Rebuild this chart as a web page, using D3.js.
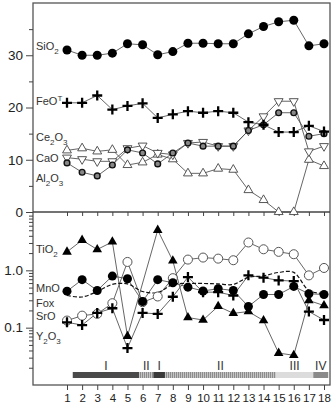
<!DOCTYPE html>
<html>
<head>
<meta charset="utf-8">
<script src="https://cdn.jsdelivr.net/npm/d3@7/dist/d3.min.js"></script>
<style>
body { margin: 0; background: #fff; }
text { font-family: "Liberation Sans", Arial, sans-serif; }
</style>
</head>
<body>
<div id="chart"></div>
<script>
// sample numbers along the profile
const samples = [1, 2, 3, 4, 5, 6, 7, 8, 9, 10, 11, 12, 13, 14, 15, 16, 17, 18];

// upper panel, wt%
const sio2  = [31.0, 30.0, 30.0, 30.4, 32.2, 32.0, 30.1, 30.7, 32.3, 32.3, 32.2, 32.2, 34.1, 35.5, 36.4, 36.7, 31.8, 32.2];
const feot  = [20.9, 20.9, 22.3, 19.6, 20.3, 20.8, 18.0, 18.7, 19.3, 19.0, 19.3, 19.0, 17.2, 16.7, 15.3, 15.3, 16.5, 15.4];
const ce2o3 = [11.8, 12.2, 11.6, 11.9, 9.0, 9.5, 11.0, 10.1, 7.4, 7.4, 8.3, 8.1, 4.2, 2.3, 0.0, 0.0, 10.0, 8.8];
const cao   = [10.4, 10.1, 9.7, 9.7, 12.2, 12.7, 11.3, 11.0, 13.2, 13.4, 12.6, 12.6, 15.6, 18.3, 21.2, 21.2, 11.6, 12.6];
const al2o3 = [9.4, 7.6, 6.9, 9.0, 11.9, 11.3, 9.2, 11.3, 13.2, 12.6, 12.6, 12.6, 15.6, 16.7, 19.0, 19.0, 14.5, 15.0];

// lower panel, log scale
const tio2 = [2.10, 3.36, 2.31, 3.14, 0.071, null, 5.03, 1.47, 0.150, 0.136, 0.236, 0.178, 0.191, 0.133, 0.036, 0.033, 0.298, 0.243];
const mno  = [0.433, 0.687, 0.446, 0.794, 0.715, 0.286, 0.687, 0.608, 0.509, 0.437, 0.477, 0.446, 0.234, 0.379, 0.379, 0.524, 0.390, 0.379];
const fox  = [0.364, 0.343, 0.428, 0.568, 0.580, 0.428, 0.410, 0.568, 0.590, 0.590, 0.580, 0.568, 0.754, 0.800, 0.920, 0.920, 0.446, 0.395];
const sro  = [0.133, 0.162, 0.174, 0.267, 1.40, 0.278, 0.350, 0.730, 1.54, 1.67, 1.60, 1.50, 3.06, 2.33, 2.10, 1.91, 0.817, 1.10];
const y2o3 = [0.124, 0.111, 0.181, 0.218, 0.044, 0.181, 0.174, 0.346, 0.762, 0.416, 0.416, 0.364, 0.817, 0.745, 0.668, 0.649, 0.191, 0.136];

// lithology units along the profile
const unitNames  = ["I", "II", "I", "II", "III", "IV"];
const unitStarts = [1.38, 5.78, 6.71, 7.48, 14.82, 17.29];
const unitEnds   = [5.78, 6.71, 7.48, 14.82, 17.29, 18.28];
const unitFills  = ["#4a4a4a", "#9a9a9a", "#3a3a3a", "#b4b4b4", "#dcdcdc", "#8a8a8a"];

const upperTicks = [0, 10, 20, 30];
const lowerTicks = [0.1, 1];

const W = 334, H = 408;
const pLeft = 33, pRight = 330, pTop = 3, pMid = 212, pBottom = 385;

const svg = d3.select("#chart").append("svg")
    .attr("width", W)
    .attr("height", H);

const x = d3.scaleLinear().domain([1, 18]).range([67, 324]);
const yUp = d3.scaleLinear().domain([0, 40]).range([pMid, pTop]);
const yLo = d3.scaleLog().domain([0.01, 10]).range([pBottom, pMid + 1]);

// lithology bar
const units = unitNames.map((n, i) => ({ name: n, a: unitStarts[i], b: unitEnds[i], fill: unitFills[i] }));
const defs = svg.append("defs");
const pat = defs.append("pattern")
    .attr("id", "stripe")
    .attr("width", 2).attr("height", 4)
    .attr("patternUnits", "userSpaceOnUse");
pat.append("rect").attr("width", 2).attr("height", 4).attr("fill", "#c4c4c4");
pat.append("rect").attr("width", 1).attr("height", 4).attr("fill", "#8c8c8c");

svg.selectAll(".unit")
    .data(units)
    .enter()
    .append("rect")
    .attr("class", "unit")
    .attr("x", d => x(d.a))
    .attr("y", 372)
    .attr("width", d => x(d.b) - x(d.a))
    .attr("height", 6)
    .attr("fill", d => d.name === "II" ? "url(#stripe)" : d.fill);

svg.selectAll(".unit-label")
    .data(units)
    .enter()
    .append("text")
    .attr("class", "unit-label")
    .attr("x", d => x((d.a + d.b) / 2))
    .attr("y", 370)
    .attr("text-anchor", "middle")
    .attr("font-size", 12)
    .attr("fill", "#333")
    .text(d => d.name);

// frame
svg.append("rect")
    .attr("x", pLeft).attr("y", pTop)
    .attr("width", pRight - pLeft).attr("height", pBottom - pTop)
    .attr("fill", "none")
    .attr("stroke", "#555")
    .attr("stroke-width", 1.3);
svg.append("line")
    .attr("x1", pLeft).attr("x2", pRight)
    .attr("y1", pMid).attr("y2", pMid)
    .attr("stroke", "#444")
    .attr("stroke-width", 1.3);

// x ticks between the panels and at the bottom
svg.append("g")
    .attr("transform", `translate(0,${pMid})`)
    .call(d3.axisBottom(x).tickValues(samples).tickSize(4).tickFormat(""))
    .call(g => g.select(".domain").remove())
    .call(g => g.selectAll("line").attr("stroke", "#444"));

svg.append("g")
    .attr("transform", `translate(0,${pBottom})`)
    .call(d3.axisBottom(x).tickValues(samples).tickSize(5).tickPadding(4))
    .call(g => g.select(".domain").remove())
    .call(g => g.selectAll("line").attr("stroke", "#444"))
    .call(g => g.selectAll("text").attr("font-size", 11.5).attr("fill", "#222")
        .attr("font-family", "Liberation Sans, Arial, sans-serif"));

// upper y axis
svg.append("g")
    .attr("transform", `translate(${pLeft},0)`)
    .call(d3.axisLeft(yUp).tickValues([5, 15, 25, 35]).tickSize(4).tickFormat(""))
    .call(g => g.select(".domain").remove())
    .call(g => g.selectAll("line").attr("stroke", "#444"));
svg.append("g")
    .attr("transform", `translate(${pLeft},0)`)
    .call(d3.axisLeft(yUp).tickValues(upperTicks).tickSize(7).tickPadding(3))
    .call(g => g.select(".domain").remove())
    .call(g => g.selectAll("line").attr("stroke", "#444"))
    .call(g => g.selectAll("text").attr("font-size", 13.5).attr("fill", "#222")
        .attr("font-family", "Liberation Sans, Arial, sans-serif"));

// lower y axis (log)
const minorLog = yLo.ticks().filter(v => v > 0.01 && v < 10 && lowerTicks.indexOf(v) < 0);
svg.append("g")
    .attr("transform", `translate(${pLeft},0)`)
    .call(d3.axisLeft(yLo).tickValues(minorLog).tickSize(4).tickFormat(""))
    .call(g => g.select(".domain").remove())
    .call(g => g.selectAll("line").attr("stroke", "#444"));
svg.append("g")
    .attr("transform", `translate(${pLeft},0)`)
    .call(d3.axisLeft(yLo).tickValues(lowerTicks).tickSize(7).tickPadding(3).tickFormat(d3.format(".1f")))
    .call(g => g.select(".domain").remove())
    .call(g => g.selectAll("line").attr("stroke", "#444"))
    .call(g => g.selectAll("text").attr("font-size", 13.5).attr("fill", "#222")
        .attr("font-family", "Liberation Sans, Arial, sans-serif"));

// helpers
function pts(values) {
    return samples.map((s, i) => ({ s: s, v: values[i] })).filter(d => d.v !== null);
}
function drawLine(values, y, opts) {
    const line = d3.line()
        .x(d => x(d.s))
        .y(d => y(Math.max(d.v, y.domain()[0])))
        .curve(opts.curve || d3.curveLinear);
    svg.append("path")
        .datum(pts(values))
        .attr("fill", "none")
        .attr("stroke", opts.stroke || "#555")
        .attr("stroke-width", opts.width || 0.9)
        .attr("stroke-dasharray", opts.dash || null)
        .attr("d", line);
}
function drawMarks(values, y, kind) {
    const g = svg.append("g");
    const sel = g.selectAll("path")
        .data(pts(values))
        .enter()
        .append("path")
        .attr("transform", d => {
            const t = `translate(${x(d.s)},${y(Math.max(d.v, y.domain()[0]))})`;
            return kind === "down" ? t + " rotate(180)" : t;
        });
    if (kind === "dot") {
        sel.attr("d", d3.symbol(d3.symbolCircle, 64)).attr("fill", "#000");
    } else if (kind === "ring") {
        sel.attr("d", d3.symbol(d3.symbolCircle, 64)).attr("fill", "#fff").attr("stroke", "#555").attr("stroke-width", 1);
    } else if (kind === "grey") {
        sel.attr("d", d3.symbol(d3.symbolCircle, 26)).attr("fill", "#888").attr("stroke", "#111").attr("stroke-width", 1.4);
    } else if (kind === "plus") {
        sel.attr("d", "M-5,0H5M0,-5V5").attr("stroke", "#000").attr("stroke-width", 2.3).attr("fill", "none");
    } else if (kind === "up" || kind === "down") {
        sel.attr("d", d3.symbol(d3.symbolTriangle, 34)).attr("fill", "#fff").attr("stroke", "#444").attr("stroke-width", 0.9);
    } else if (kind === "solidup") {
        sel.attr("d", d3.symbol(d3.symbolTriangle, 40)).attr("fill", "#000");
    }
}

// upper panel series
drawLine(ce2o3, yUp, {});
drawLine(cao, yUp, {});
drawLine(al2o3, yUp, {});
drawLine(feot, yUp, {});
drawLine(sio2, yUp, {});
drawMarks(ce2o3, yUp, "up");
drawMarks(cao, yUp, "down");
drawMarks(al2o3, yUp, "grey");
drawMarks(feot, yUp, "plus");
drawMarks(sio2, yUp, "dot");

// lower panel series
drawLine(tio2, yLo, {});
drawLine(sro, yLo, {});
drawLine(y2o3, yLo, {});
drawLine(mno, yLo, {});
drawLine(fox, yLo, { curve: d3.curveCatmullRom, dash: "4,2", stroke: "#111", width: 1.2 });
drawMarks(sro, yLo, "ring");
drawMarks(tio2, yLo, "solidup");
drawMarks(y2o3, yLo, "plus");
drawMarks(mno, yLo, "dot");

// series labels
const labels = [
    { parts: [["SiO", 0], ["2", 1]], y: 50 },
    { parts: [["FeO", 0], ["T", -1]], y: 105 },
    { parts: [["Ce", 0], ["2", 1], ["O", 0], ["3", 1]], y: 141 },
    { parts: [["CaO", 0]], y: 162 },
    { parts: [["Al", 0], ["2", 1], ["O", 0], ["3", 1]], y: 182 },
    { parts: [["TiO", 0], ["2", 1]], y: 253 },
    { parts: [["MnO", 0]], y: 292 },
    { parts: [["Fox", 0]], y: 307 },
    { parts: [["SrO", 0]], y: 320 },
    { parts: [["Y", 0], ["2", 1], ["O", 0], ["3", 1]], y: 340 }
];
labels.forEach(l => {
    const t = svg.append("text")
        .attr("x", 36)
        .attr("y", l.y)
        .attr("font-size", 11)
        .attr("fill", "#333");
    let shift = 0;
    l.parts.forEach(p => {
        const want = p[1] * 4;
        t.append("tspan")
            .attr("dy", want - shift)
            .attr("font-size", p[1] === 0 ? 11 : 8)
            .text(p[0]);
        shift = want;
    });
});
</script>
</body>
</html>
